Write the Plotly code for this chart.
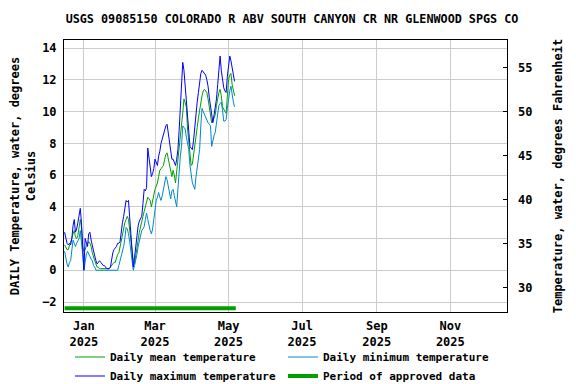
import pandas as pd
import plotly.graph_objects as go

title_text = "USGS 09085150 COLORADO R ABV SOUTH CANYON CR NR GLENWOOD SPGS CO"
start_date = "2024-12-16"

temp_max = [
    2.4, 2.0, 1.7, 1.6, 1.7, 1.6, 2.0, 2.8, 3.2, 2.4,
    2.6, 3.0, 3.6, 3.9, 3.0, 1.5, 0.0, 2.0, 1.7, 1.5,
    2.3, 2.4, 1.9, 1.5, 1.1, 0.9, 0.6, 0.4, 0.5, 0.6,
    0.5, 0.4, 0.3, 0.3, 0.2, 0.1, 0.1, 0.1, 0.2, 0.8,
    1.1, 1.3, 1.4, 1.5, 1.7, 1.7, 1.8, 2.6, 3.0, 3.4,
    4.0, 4.4, 4.3, 4.4, 3.3, 2.0, 1.5, 0.2, 0.8, 1.5,
    2.2, 2.8, 3.1, 3.3, 3.4, 4.2, 5.1, 5.0, 5.2, 7.7,
    7.0, 6.5, 5.9, 6.1, 6.4, 7.0, 6.8, 6.6, 7.2, 7.5,
    8.0, 8.3, 8.5, 8.8, 9.1, 9.2, 8.7, 7.9, 7.6, 7.0,
    7.0, 6.8, 6.6, 7.0, 7.6, 8.8, 10.2, 11.8, 13.1, 12.6,
    11.6, 10.8, 9.7, 8.6, 7.8, 7.7, 7.6, 8.2, 9.1, 9.9,
    10.6, 11.2, 11.8, 12.4, 12.6, 12.5, 12.4, 12.3, 12.0, 11.6,
    10.9, 10.4, 9.9, 9.3, 9.8, 10.3, 10.8, 11.7, 12.7, 13.5,
    12.6, 11.9, 11.5, 11.3, 11.2, 12.2, 13.1, 13.5, 13.2, 12.7,
    12.3, 11.9,
]

temp_mean = [
    1.6, 1.4, 1.3, 1.3, 1.5, 1.8, 2.0, 2.3, 2.5, 2.1,
    2.0, 2.2, 2.8, 3.2, 2.7, 1.5, 1.2, 1.3, 1.5, 1.7,
    1.8, 1.7, 1.5, 1.1, 0.8, 0.6, 0.4, 0.2, 0.2, 0.1,
    0.1, 0.1, 0.1, 0.1, 0.1, 0.1, 0.1, 0.1, 0.2, 0.3,
    0.4, 0.5, 0.5, 0.8, 1.0, 1.1, 1.5, 1.9, 2.2, 2.6,
    3.0, 3.2, 3.4, 3.2, 2.5, 1.8, 1.1, 0.6, 0.4, 1.0,
    1.4, 1.9, 2.4, 2.8, 3.1, 3.4, 3.7, 4.0, 4.3, 4.6,
    4.5, 4.4, 4.0, 4.4, 4.8, 5.1, 5.3, 5.5, 5.9, 6.3,
    6.4, 6.5, 6.6, 7.0, 7.3, 7.4, 7.0, 6.5, 6.1, 5.9,
    6.3, 6.0, 5.5, 6.2, 7.0, 7.8, 8.5, 8.9, 9.9, 10.8,
    10.6, 10.3, 8.9, 8.0, 7.3, 6.6, 6.7, 7.2, 7.8, 8.4,
    9.0, 9.6, 10.1, 10.7, 11.0, 11.3, 11.4, 11.3, 11.2, 10.8,
    10.2, 9.7, 9.3, 9.4, 9.6, 9.8, 10.4, 10.9, 11.2, 11.4,
    11.0, 10.3, 10.1, 10.0, 9.9, 10.9, 12.0, 12.3, 12.4, 11.7,
    11.2, 11.0,
]

temp_min = [
    1.2, 0.7, 0.4, 0.2, 0.5, 0.6, 1.2, 1.9, 1.7, 1.5,
    1.7, 1.9, 2.0, 2.5, 1.9, 1.0, 0.0, 0.6, 1.0, 1.2,
    1.0, 0.9, 0.7, 0.6, 0.3, 0.2, 0.0, 0.0, 0.0, 0.0,
    0.0, 0.0, 0.0, 0.0, 0.0, 0.0, 0.0, 0.0, 0.0, 0.0,
    0.0, 0.0, 0.0, 0.0, 0.0, 0.3, 0.6, 1.0, 1.2, 1.5,
    2.0, 2.7, 2.6, 2.3, 1.8, 1.3, 0.6, 0.0, 0.3, 0.6,
    1.0, 1.5, 1.9, 2.2, 2.5, 2.6, 2.75, 3.2, 3.6, 3.2,
    2.8, 2.5, 2.3, 2.6, 3.2, 3.8, 4.4, 4.6, 4.9, 4.6,
    4.4, 4.7, 5.1, 5.5, 5.9, 5.7, 5.3, 5.0, 4.5, 5.0,
    5.1, 4.7, 4.4, 4.0, 5.1, 6.3, 7.2, 7.8, 9.1, 9.0,
    8.9, 8.4, 8.0, 7.6, 6.6, 6.0, 5.5, 5.3, 5.1, 5.9,
    6.6, 7.2, 7.6, 9.1, 10.2, 10.0, 9.8, 9.7, 9.5, 9.3,
    9.2, 9.1, 7.8, 8.2, 8.5, 8.7, 9.4, 9.8, 10.4, 10.5,
    10.6, 10.1, 9.4, 9.4, 9.5, 10.2, 10.8, 11.3, 11.6, 11.0,
    10.6, 10.3,
]

approved_period = ["2024-12-16", "2025-05-07"]

x_tick_vals = ["2025-01-01", "2025-03-01", "2025-05-01", "2025-07-01", "2025-09-01", "2025-11-01"]
x_tick_text = ["Jan<br>2025", "Mar<br>2025", "May<br>2025", "Jul<br>2025", "Sep<br>2025", "Nov<br>2025"]
y_tick_vals = [-2, 0, 2, 4, 6, 8, 10, 12, 14]
f_tick_vals = [30, 35, 40, 45, 50, 55]

x_range = ["2024-12-15 12:00", "2025-12-18"]
c_range = [-2.63, 14.51]
f_range = [c * 9 / 5 + 32 for c in c_range]

dates = pd.date_range(start_date, periods=len(temp_max), freq="D")

FONT = "DejaVu Sans Mono"
GREEN = "#00A000"
BLUE = "#0000FF"
LIGHTBLUE = "#0088CC"

# The page body keeps the browser's default 8px margin, so the figure is
# sized 8px smaller than the window and all offsets are relative to that.
W, H = 568, 376

fig = go.Figure()
fig.add_trace(go.Scatter(x=dates, y=temp_mean, mode="lines", name="Daily mean temperature",
                         line=dict(color=GREEN, width=1)))
fig.add_trace(go.Scatter(x=dates, y=temp_min, mode="lines", name="Daily minimum temperature",
                         line=dict(color=LIGHTBLUE, width=1)))
fig.add_trace(go.Scatter(x=dates, y=temp_max, mode="lines", name="Daily maximum temperature",
                         line=dict(color=BLUE, width=1)))
bar_level = c_range[0] + 0.014 * (c_range[1] - c_range[0])
fig.add_trace(go.Scatter(x=approved_period, y=[bar_level, bar_level], mode="lines",
                         name="Period of approved data", line=dict(color=GREEN, width=4)))
# invisible trace for the Fahrenheit axis
fig.add_trace(go.Scatter(x=[dates[0]], y=[f_range[0]], yaxis="y2", mode="markers",
                         marker=dict(opacity=0), showlegend=False, hoverinfo="skip"))

fig.update_layout(
    width=W, height=H,
    margin=dict(l=56, r=69, t=32, b=72, autoexpand=False),
    paper_bgcolor="white", plot_bgcolor="white",
    font=dict(family=FONT, size=12, color="black", weight="bold"),
    title=dict(text=title_text, x=0.5, xref="container", xanchor="center",
               y=1 - 11 / H, yref="container", yanchor="middle",
               font=dict(family=FONT, size=11.75, color="black", weight="bold")),
    xaxis=dict(range=x_range, type="date", tickvals=x_tick_vals, ticktext=x_tick_text,
               showgrid=True, gridcolor="#CCCCCC", gridwidth=1, automargin=False,
               showline=True, linecolor="black", linewidth=1, mirror=True,
               ticks="", ticklabelstandoff=3, zeroline=False),
    yaxis=dict(range=c_range, tickvals=y_tick_vals, showgrid=True, gridcolor="#CCCCCC",
               gridwidth=1, showline=True, linecolor="black", linewidth=1, mirror=True,
               ticks="", ticklabelstandoff=4, zeroline=False, automargin=False,
               title=dict(text="DAILY Temperature, water, degrees<br>Celsius", standoff=17,
                          font=dict(family=FONT, size=12, weight="bold"))),
    yaxis2=dict(range=f_range, overlaying="y", side="right", tickvals=f_tick_vals,
                showgrid=False, zeroline=False, ticks="inside", ticklen=4, tickcolor="black",
                ticklabelstandoff=10, automargin=False,
                title=dict(text="Temperature, water, degrees Fahrenheit", standoff=22,
                           font=dict(family=FONT, size=12, weight="bold"))),
    legend=dict(orientation="h", xref="container", x=62 / W, xanchor="left",
                yref="container", y=1 - 334.5 / H, yanchor="top",
                entrywidth=168, entrywidthmode="pixels", font=dict(family=FONT, size=11),
                bgcolor="rgba(0,0,0,0)", tracegroupgap=0, itemsizing="trace"),
    showlegend=True,
)

fig.write_html("out.html")
